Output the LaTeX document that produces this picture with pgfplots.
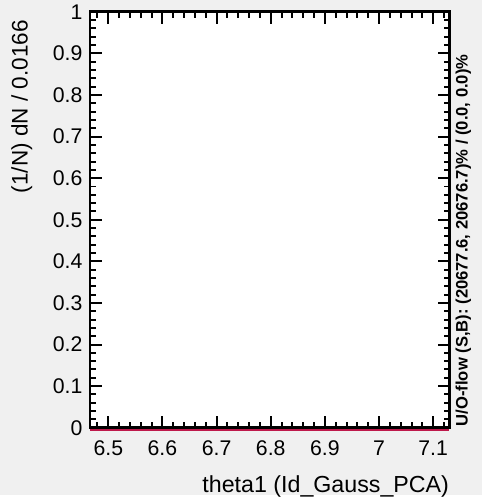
\documentclass[border=0pt]{standalone}
\usepackage{fontspec}
\setmainfont{Liberation Sans}
\usepackage{pgfplots}
\pgfplotsset{compat=1.18}
\definecolor{bggray}{RGB}{240,240,240}
\definecolor{histred}{RGB}{190,25,75}
\begin{document}
\begin{tikzpicture}
\fill[bggray] (0,0) rectangle (488pt,501pt);
\begin{axis}[
  name=ax,
  at={(91pt,68pt)}, anchor=south west,
  scale only axis, width=364pt, height=421pt,
  xmin=6.466, xmax=7.130, ymin=0, ymax=1,
  axis background/.style={fill=white},
  xtick={6.5,6.6,6.7,6.8,6.9,7.0,7.1},
  xticklabels={6.5,6.6,6.7,6.8,6.9,7,7.1},
  minor xtick={6.48,6.52,6.54,6.56,6.58,6.62,6.64,6.66,6.68,6.72,6.74,6.76,6.78,6.82,6.84,6.86,6.88,6.92,6.94,6.96,6.98,7.02,7.04,7.06,7.08,7.12},
  ytick={0,0.1,0.2,0.3,0.4,0.5,0.6,0.7,0.8,0.9,1},
  yticklabels={0,0.1,0.2,0.3,0.4,0.5,0.6,0.7,0.8,0.9,1},
  minor y tick num=4,
  xticklabel pos=lower, yticklabel pos=left,
  tick align=inside,
  major tick length=12pt, minor tick length=6pt,
  tick style={black, line width=2pt},
  axis line style={line width=2.8pt},
  ticklabel style={font=\fontsize{21.5}{25}\selectfont},
  /pgf/number format/assume math mode=true,
  xticklabel style={yshift=-10pt},
  yticklabel style={xshift=-4pt},
  clip=false,
]
\addplot[histred, line width=2pt, yshift=-2.2pt, forget plot] coordinates {(6.466,0) (7.130,0)};
\end{axis}
\node[rotate=90, anchor=base east, font=\fontsize{22.8}{26}\selectfont] at ([xshift=-63pt,yshift=-5pt]ax.north west) {(1/N) dN / 0.0166};
\node[anchor=base east, font=\fontsize{23.5}{27}\selectfont] at ([xshift=3pt,yshift=-66pt]ax.south east) {theta1 (Id\_Gauss\_PCA)};
\node[rotate=90, anchor=base west, font=\bfseries\fontsize{16.8}{20}\selectfont] at ([xshift=18.5pt,yshift=-2pt]ax.south east) {U/O-flow (S,B): (20677.6, 20676.7)\% / (0.0, 0.0)\%};
\end{tikzpicture}
\end{document}
